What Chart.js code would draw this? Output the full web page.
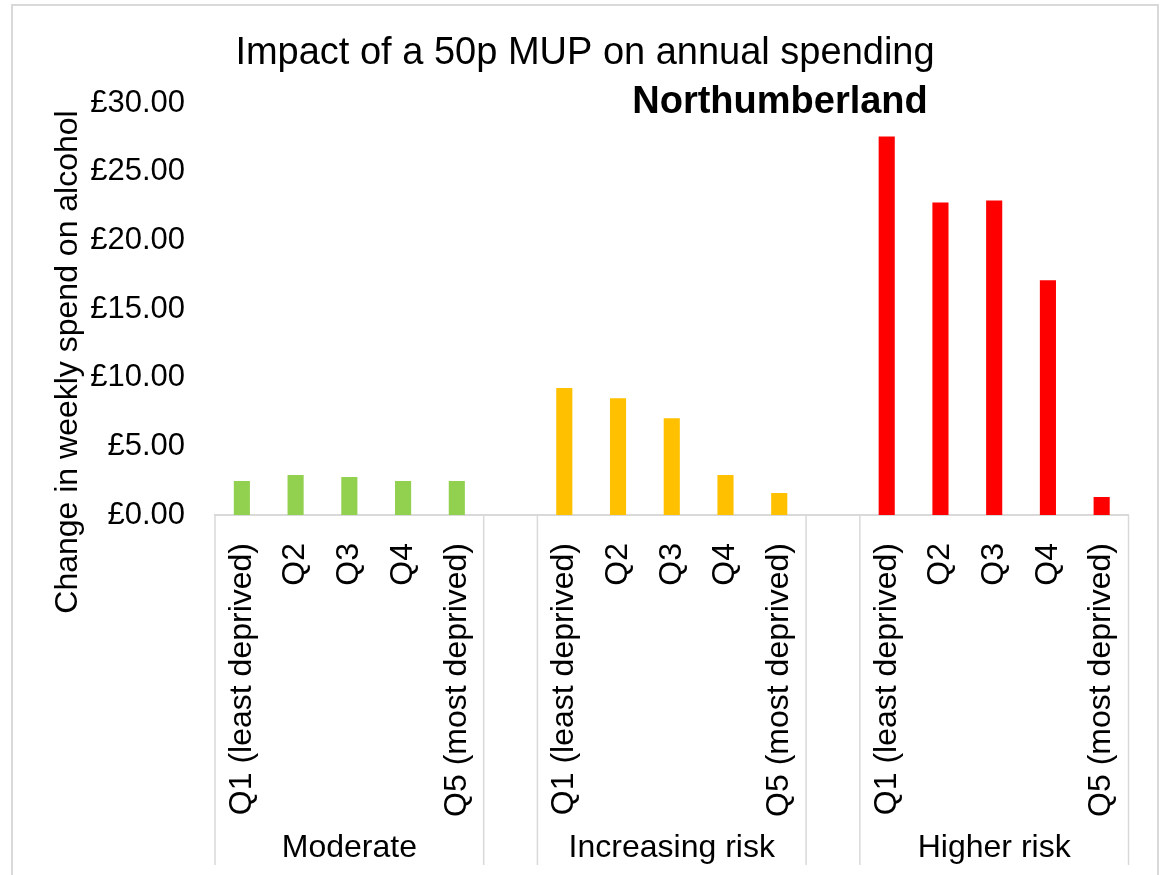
<!DOCTYPE html>
<html>
<head>
<meta charset="utf-8">
<script src="https://cdn.jsdelivr.net/npm/chart.js@4.4.1/dist/chart.umd.min.js"></script>
<style>
  html, body { margin: 0; padding: 0; background: #fff; }
  #wrap { width: 1161px; height: 875px; }
</style>
</head>
<body>
<div id="wrap"><canvas id="chart" width="1161" height="875"></canvas></div>
<script>
const quintiles = ['Q1 (least deprived)', 'Q2', 'Q3', 'Q4', 'Q5 (most deprived)'];
const groupLabels = ['Moderate', 'Increasing risk', 'Higher risk'];
const moderate = [2.47, 2.91, 2.76, 2.47, 2.47];
const increasingRisk = [9.24, 8.51, 7.05, 2.91, 1.60];
const higherRisk = [27.56, 22.76, 22.90, 17.09, 1.31];
const groupColors = ['#92d050', '#ffc000', '#ff0000'];
const yTicks = [0, 5, 10, 15, 20, 25, 30];

const FONT = '"Liberation Sans", Arial, sans-serif';
Chart.defaults.font.family = FONT;
Chart.defaults.color = '#000';

// flatten groups into one category axis, with an empty slot between groups
const labels = [];
const values = [];
const colors = [];
const spans = [];
[moderate, increasingRisk, higherRisk].forEach((series, g) => {
  if (g > 0) { labels.push(''); values.push(null); colors.push('#fff'); }
  const start = labels.length;
  series.forEach((v, i) => {
    labels.push(quintiles[i]);
    values.push(v);
    colors.push(groupColors[g]);
  });
  spans.push({ label: groupLabels[g], start, end: labels.length - 1 });
});

const groupAxis = {
  id: 'groupAxis',
  afterDraw(chart) {
    const { ctx, chartArea } = chart;
    const x = chart.scales.x;
    const half = (x.getPixelForValue(1) - x.getPixelForValue(0)) / 2;
    ctx.save();

    // outer frame
    ctx.strokeStyle = '#d9d9d9';
    ctx.lineWidth = 2;
    ctx.strokeRect(12, 5, 1146, 880);

    // group separators + group names
    ctx.lineWidth = 1.5;
    ctx.fillStyle = '#000';
    ctx.font = '32px ' + FONT;
    ctx.textAlign = 'center';
    ctx.textBaseline = 'middle';
    spans.forEach(s => {
      const left = x.getPixelForValue(s.start) - half;
      const right = x.getPixelForValue(s.end) + half;
      [left, right].forEach(px => {
        ctx.beginPath();
        ctx.moveTo(px, chartArea.bottom);
        ctx.lineTo(px, 865);
        ctx.stroke();
      });
      ctx.fillText(s.label, (left + right) / 2, 848);
    });

    // titles
    ctx.textBaseline = 'alphabetic';
    ctx.font = '38px ' + FONT;
    ctx.fillText('Impact of a 50p MUP on annual spending', 585, 64);
    ctx.font = 'bold 38px ' + FONT;
    ctx.fillText('Northumberland', 780, 113);

    // y axis title
    ctx.translate(77, 362);
    ctx.rotate(-Math.PI / 2);
    ctx.font = '32px ' + FONT;
    ctx.fillText('Change in weekly spend on alcohol', 0, 0);
    ctx.restore();
  }
};

new Chart(document.getElementById('chart'), {
  type: 'bar',
  data: {
    labels: labels,
    datasets: [{
      data: values,
      backgroundColor: colors,
      barPercentage: 0.3,
      categoryPercentage: 1,
    }]
  },
  options: {
    responsive: false,
    animation: false,
    layout: { padding: { left: 0, right: 32, top: 103, bottom: 10 } },
    plugins: {
      legend: { display: false },
      tooltip: { enabled: false },
      title: { display: false },
    },
    scales: {
      x: {
        grid: { display: false },
        border: { display: true, color: '#d9d9d9', width: 2 },
        ticks: { autoSkip: false, minRotation: 90, maxRotation: 90, padding: 20, font: { size: 32 }, color: '#000' },
        afterFit: s => { s.height = 350; },
      },
      y: {
        min: 0, max: 30,
        grid: { display: false },
        border: { display: false },
        afterBuildTicks: s => { s.ticks = yTicks.map(v => ({ value: v })); },
        ticks: { padding: 22, font: { size: 31 }, color: '#000', callback: v => '£' + v.toFixed(2) },
        afterFit: s => { s.width = 215; },
      },
    },
  },
  plugins: [groupAxis],
});
</script>
</body>
</html>
